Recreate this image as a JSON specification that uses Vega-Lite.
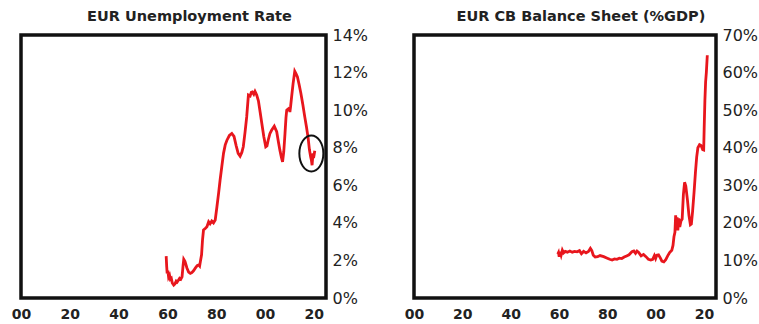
{
  "$schema": "https://vega.github.io/schema/vega-lite/v6.json",
  "background": "white",
  "padding": {"left": 9, "top": 6, "right": 0, "bottom": 0},
  "spacing": 32,
  "config": {
    "view": {"stroke": "#111111", "strokeWidth": 3.5},
    "font": "DejaVu Sans",
    "title": {"font": "DejaVu Sans", "fontSize": 14.5, "fontWeight": "bold", "color": "#222222", "anchor": "middle", "frame": "bounds", "offset": 3},
    "axis": {"domain": false, "ticks": false, "grid": false, "title": null, "labelColor": "#222222", "labelFont": "DejaVu Sans", "labelOverlap": false}
  },
  "datasets": {
    "unemp": [
      {"year": 1959.5, "value": 2.23}, {"year": 1959.7, "value": 1.7}, {"year": 1959.9, "value": 1.31}, {"year": 1960.2, "value": 1.45},
      {"year": 1960.5, "value": 1.1}, {"year": 1960.9, "value": 1.2}, {"year": 1961.2, "value": 1.0}, {"year": 1961.6, "value": 1.05},
      {"year": 1962.0, "value": 0.8}, {"year": 1962.6, "value": 0.69}, {"year": 1963.1, "value": 0.75}, {"year": 1963.6, "value": 0.9},
      {"year": 1964.0, "value": 0.85}, {"year": 1964.5, "value": 0.95}, {"year": 1965.0, "value": 1.05}, {"year": 1965.5, "value": 1.0},
      {"year": 1966.0, "value": 1.13}, {"year": 1966.4, "value": 1.7}, {"year": 1966.7, "value": 2.06}, {"year": 1967.2, "value": 1.95},
      {"year": 1968.0, "value": 1.6}, {"year": 1968.7, "value": 1.38}, {"year": 1969.4, "value": 1.31}, {"year": 1970.0, "value": 1.35},
      {"year": 1970.7, "value": 1.45}, {"year": 1971.5, "value": 1.6}, {"year": 1972.2, "value": 1.72}, {"year": 1972.8, "value": 1.76},
      {"year": 1973.2, "value": 1.7}, {"year": 1973.5, "value": 1.93}, {"year": 1974.0, "value": 2.3}, {"year": 1974.4, "value": 3.1},
      {"year": 1974.8, "value": 3.62}, {"year": 1975.5, "value": 3.7}, {"year": 1976.2, "value": 3.79}, {"year": 1976.9, "value": 4.06},
      {"year": 1977.5, "value": 3.95}, {"year": 1978.2, "value": 4.1}, {"year": 1978.9, "value": 4.0}, {"year": 1979.6, "value": 4.15},
      {"year": 1980.3, "value": 4.86}, {"year": 1981.0, "value": 5.6}, {"year": 1981.6, "value": 6.28}, {"year": 1982.3, "value": 7.0},
      {"year": 1983.0, "value": 7.7}, {"year": 1983.7, "value": 8.15}, {"year": 1984.4, "value": 8.4}, {"year": 1985.4, "value": 8.65},
      {"year": 1986.4, "value": 8.76}, {"year": 1987.3, "value": 8.6}, {"year": 1988.2, "value": 8.1}, {"year": 1989.0, "value": 7.7},
      {"year": 1989.8, "value": 7.55}, {"year": 1990.5, "value": 7.75}, {"year": 1991.1, "value": 8.05}, {"year": 1991.8, "value": 8.8},
      {"year": 1992.5, "value": 9.64}, {"year": 1993.2, "value": 10.8}, {"year": 1993.9, "value": 10.75}, {"year": 1994.4, "value": 10.95},
      {"year": 1994.8, "value": 10.97}, {"year": 1995.4, "value": 10.85}, {"year": 1995.9, "value": 11.0}, {"year": 1996.6, "value": 10.8},
      {"year": 1997.3, "value": 10.5}, {"year": 1998.0, "value": 9.9}, {"year": 1998.7, "value": 9.29}, {"year": 1999.5, "value": 8.6},
      {"year": 2000.3, "value": 8.05}, {"year": 2000.8, "value": 8.1}, {"year": 2001.3, "value": 8.4}, {"year": 2002.0, "value": 8.75},
      {"year": 2002.7, "value": 8.93}, {"year": 2003.8, "value": 9.15}, {"year": 2004.8, "value": 8.85}, {"year": 2005.5, "value": 8.3},
      {"year": 2006.1, "value": 7.87}, {"year": 2006.7, "value": 7.5}, {"year": 2007.2, "value": 7.25}, {"year": 2007.7, "value": 7.8},
      {"year": 2008.2, "value": 8.76}, {"year": 2008.6, "value": 9.6}, {"year": 2008.9, "value": 10.0}, {"year": 2009.4, "value": 10.05},
      {"year": 2009.9, "value": 10.1}, {"year": 2010.2, "value": 9.9}, {"year": 2010.5, "value": 10.2}, {"year": 2010.9, "value": 10.7},
      {"year": 2011.5, "value": 11.4}, {"year": 2012.2, "value": 12.07}, {"year": 2012.7, "value": 11.95}, {"year": 2013.3, "value": 11.77},
      {"year": 2014.0, "value": 11.35}, {"year": 2014.7, "value": 10.9}, {"year": 2015.5, "value": 10.3}, {"year": 2016.3, "value": 9.64},
      {"year": 2017.0, "value": 9.1}, {"year": 2017.7, "value": 8.5}, {"year": 2018.2, "value": 7.9}, {"year": 2018.7, "value": 7.52},
      {"year": 2019.0, "value": 7.35}, {"year": 2019.3, "value": 7.07}, {"year": 2019.5, "value": 7.4}, {"year": 2019.7, "value": 7.7},
      {"year": 2019.9, "value": 7.45}, {"year": 2020.1, "value": 7.6}, {"year": 2020.4, "value": 7.84}
    ],
    "circle": [
      {"year": 2019.0, "value": 7.69}
    ],
    "cb": [
      {"year": 1959.5, "value": 11.7}, {"year": 1959.8, "value": 12.1}, {"year": 1960.1, "value": 11.0}, {"year": 1960.5, "value": 12.3},
      {"year": 1960.9, "value": 11.4}, {"year": 1961.4, "value": 12.7}, {"year": 1961.9, "value": 12.0}, {"year": 1962.6, "value": 12.4},
      {"year": 1963.5, "value": 12.2}, {"year": 1964.5, "value": 12.5}, {"year": 1965.5, "value": 12.2}, {"year": 1966.5, "value": 12.4},
      {"year": 1967.5, "value": 12.3}, {"year": 1968.5, "value": 12.6}, {"year": 1969.3, "value": 11.8}, {"year": 1970.2, "value": 12.4},
      {"year": 1971.2, "value": 12.0}, {"year": 1972.2, "value": 12.4}, {"year": 1973.0, "value": 13.2}, {"year": 1973.6, "value": 12.6},
      {"year": 1974.2, "value": 11.4}, {"year": 1975.0, "value": 10.9}, {"year": 1976.0, "value": 11.0}, {"year": 1977.0, "value": 11.3},
      {"year": 1978.5, "value": 11.0}, {"year": 1980.0, "value": 10.6}, {"year": 1981.0, "value": 10.3}, {"year": 1982.0, "value": 10.1},
      {"year": 1983.0, "value": 10.4}, {"year": 1984.0, "value": 10.3}, {"year": 1985.0, "value": 10.6}, {"year": 1986.0, "value": 10.5},
      {"year": 1987.0, "value": 10.9}, {"year": 1988.0, "value": 11.2}, {"year": 1989.0, "value": 11.5}, {"year": 1990.2, "value": 12.3},
      {"year": 1991.0, "value": 12.5}, {"year": 1991.7, "value": 11.9}, {"year": 1992.3, "value": 12.5}, {"year": 1993.0, "value": 12.1},
      {"year": 1994.0, "value": 11.2}, {"year": 1995.0, "value": 11.6}, {"year": 1996.0, "value": 11.0}, {"year": 1997.0, "value": 10.3},
      {"year": 1998.0, "value": 10.1}, {"year": 1998.8, "value": 10.3}, {"year": 1999.5, "value": 11.3}, {"year": 2000.0, "value": 10.5},
      {"year": 2000.5, "value": 11.4}, {"year": 2001.2, "value": 11.5}, {"year": 2002.0, "value": 10.6}, {"year": 2002.6, "value": 9.8},
      {"year": 2003.4, "value": 9.6}, {"year": 2004.2, "value": 10.2}, {"year": 2005.0, "value": 11.2}, {"year": 2005.8, "value": 12.1},
      {"year": 2006.7, "value": 12.7}, {"year": 2007.2, "value": 14.0}, {"year": 2007.6, "value": 16.3}, {"year": 2008.0, "value": 17.5},
      {"year": 2008.3, "value": 22.0}, {"year": 2008.6, "value": 18.5}, {"year": 2008.9, "value": 21.5}, {"year": 2009.2, "value": 18.0},
      {"year": 2009.6, "value": 21.2}, {"year": 2010.0, "value": 18.9}, {"year": 2010.5, "value": 20.5}, {"year": 2011.0, "value": 21.0},
      {"year": 2011.5, "value": 27.5}, {"year": 2012.0, "value": 30.8}, {"year": 2012.5, "value": 29.8}, {"year": 2013.2, "value": 26.0},
      {"year": 2013.8, "value": 22.0}, {"year": 2014.4, "value": 19.5}, {"year": 2014.8, "value": 19.7}, {"year": 2015.3, "value": 23.0},
      {"year": 2015.9, "value": 28.0}, {"year": 2016.5, "value": 33.5}, {"year": 2017.0, "value": 37.5}, {"year": 2017.5, "value": 40.0},
      {"year": 2018.2, "value": 40.8}, {"year": 2018.8, "value": 40.6}, {"year": 2019.5, "value": 39.5}, {"year": 2019.9, "value": 39.4},
      {"year": 2020.1, "value": 45.0}, {"year": 2020.4, "value": 52.5}, {"year": 2020.7, "value": 57.5}, {"year": 2021.0, "value": 60.0},
      {"year": 2021.4, "value": 64.6}
    ]
  },
  "hconcat": [
    {
      "title": "EUR Unemployment Rate",
      "width": 305,
      "height": 263,
      "encoding": {
        "x": {"field": "year", "type": "quantitative", "scale": {"domain": [1900, 2025], "nice": false},
          "axis": {"orient": "bottom", "values": [1900, 1920, 1940, 1960, 1980, 2000, 2020], "labelExpr": "format(datum.value % 100, '02d')", "labelFontSize": 14, "labelFontWeight": "bold", "labelPadding": 9, "labelFlush": false, "labelOverlap": false}},
        "y": {"field": "value", "type": "quantitative", "scale": {"domain": [0, 14], "nice": false},
          "axis": {"orient": "right", "values": [0, 2, 4, 6, 8, 10, 12, 14], "labelExpr": "datum.value + '%'", "labelFontSize": 16, "labelPadding": 6, "labelFlush": false, "labelOverlap": false}}
      },
      "layer": [
        {
          "data": {"name": "unemp"},
          "mark": {"type": "line", "color": "#e8161d", "strokeWidth": 2.8}
        },
        {
          "data": {"name": "circle"},
          "mark": {"type": "point", "shape": "M -0.667 0 A 0.667 1 0 1 1 0.667 0 A 0.667 1 0 1 1 -0.667 0 Z", "size": 1296, "filled": false, "stroke": "#111111", "strokeWidth": 2, "opacity": 1}
        }
      ]
    },
    {
      "title": "EUR CB Balance Sheet (%GDP)",
      "width": 302,
      "height": 263,
      "data": {"name": "cb"},
      "mark": {"type": "line", "color": "#e8161d", "strokeWidth": 2.8},
      "encoding": {
        "x": {"field": "year", "type": "quantitative", "scale": {"domain": [1900, 2025], "nice": false},
          "axis": {"orient": "bottom", "values": [1900, 1920, 1940, 1960, 1980, 2000, 2020], "labelExpr": "format(datum.value % 100, '02d')", "labelFontSize": 14, "labelFontWeight": "bold", "labelPadding": 9, "labelFlush": false, "labelOverlap": false}},
        "y": {"field": "value", "type": "quantitative", "scale": {"domain": [0, 70], "nice": false},
          "axis": {"orient": "right", "values": [0, 10, 20, 30, 40, 50, 60, 70], "labelExpr": "datum.value + '%'", "labelFontSize": 16, "labelPadding": 6, "labelFlush": false, "labelOverlap": false}}
      }
    }
  ]
}
